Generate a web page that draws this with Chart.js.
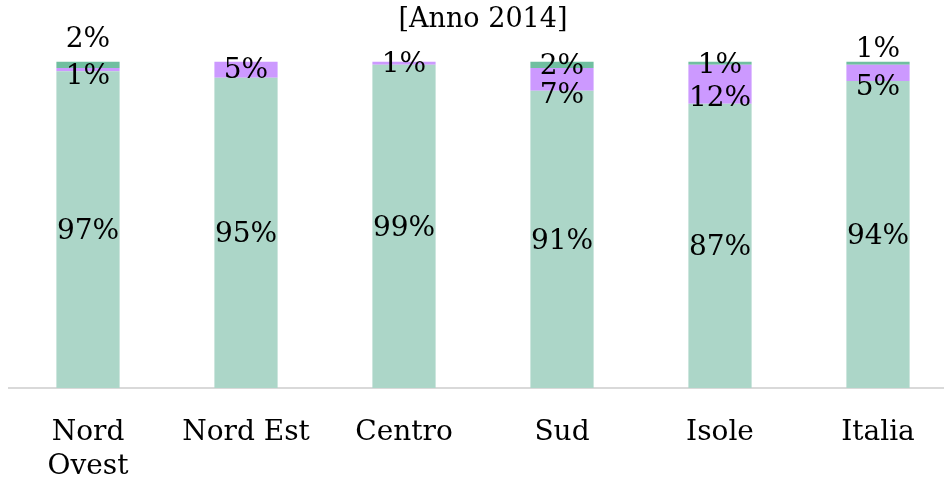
<!DOCTYPE html>
<html>
<head>
<meta charset="utf-8">
<script src="https://cdn.jsdelivr.net/npm/chart.js@4/dist/chart.umd.min.js"></script>
<style>
  html, body { margin: 0; padding: 0; background: #fff; overflow: hidden; }
  #wrap { width: 960px; height: 484px; }
</style>
</head>
<body>
<div id="wrap"><canvas id="grafico"></canvas></div>
<script>
// ---- Dati (percentuali per ripartizione) ----
const ripartizioni = [['Nord', 'Ovest'], 'Nord Est', 'Centro', 'Sud', 'Isole', 'Italia'];
const quotaVerde   = [97, 95, 99, 91, 87, 94];
const quotaViola   = [1, 5, 1, 7, 12, 5];
const quotaScura   = [2, 0, 0, 2, 1, 1];
const titolo       = '[Anno 2014]';

const FONT = '"DejaVu Serif", serif';

// spostamento verticale delle etichette (px), come le sposta il foglio originale
const spostamenti = [
    [2, 2, 2, 2, 2, 2],
    [7, 1, 2, 16, 14, 15],
    [-25, 0, 2, 2, 3, -13]
];

const etichettePlugin = {
    id: 'etichette',
    afterDatasetsDraw(chart) {
        const ctx = chart.ctx;
        ctx.save();
        ctx.font = '28px ' + FONT;
        ctx.fillStyle = '#000';
        ctx.textAlign = 'center';
        ctx.textBaseline = 'middle';
        chart.data.datasets.forEach((ds, di) => {
            const meta = chart.getDatasetMeta(di);
            meta.data.forEach((bar, i) => {
                const v = ds.data[i];
                if (!v) return;
                const y = (bar.y + bar.base) / 2 + spostamenti[di][i];
                ctx.fillText(v + '%', bar.x, y);
            });
        });
        ctx.restore();
    }
};

new Chart(document.getElementById('grafico'), {
    type: 'bar',
    data: {
        labels: ripartizioni,
        datasets: [
            { data: quotaVerde, backgroundColor: '#acd6c8' },
            { data: quotaViola, backgroundColor: '#cc99ff' },
            { data: quotaScura, backgroundColor: '#70bfa0' }
        ]
    },
    options: {
        responsive: true,
        maintainAspectRatio: false,
        animation: false,
        datasets: { bar: { barPercentage: 0.4, categoryPercentage: 1 } },
        layout: { padding: { left: 9, right: 3, top: 4, bottom: 0 } },
        plugins: {
            legend: { display: false },
            tooltip: { enabled: false },
            title: {
                display: true,
                text: titolo,
                color: '#000',
                font: { family: FONT, size: 27, weight: 'normal' },
                padding: { top: 0, bottom: 25 }
            }
        },
        scales: {
            x: {
                stacked: true,
                grid: { display: false },
                border: { display: true, color: '#d9d9d9', width: 2 },
                ticks: {
                    color: '#000',
                    font: { family: FONT, size: 28 },
                    padding: 20,
                    maxRotation: 0
                },
                afterFit(scale) { scale.height = 96; }
            },
            y: {
                stacked: true,
                display: false,
                min: 0,
                max: 100
            }
        }
    },
    plugins: [etichettePlugin]
});
</script>
</body>
</html>
